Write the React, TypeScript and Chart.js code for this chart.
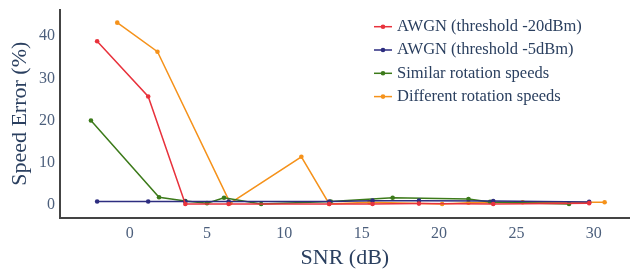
import React, { useEffect, useRef } from "react";
import { Chart, registerables } from "chart.js";

Chart.register(...registerables);

const seriesNames = [
  "AWGN (threshold -20dBm)",
  "AWGN (threshold -5dBm)",
  "Similar rotation speeds",
  "Different rotation speeds",
];
const seriesColors = ["#e8323c", "#2d2d80", "#3c7a1a", "#f5921b"];

const redX = [-2.1, 1.2, 3.6, 6.4, 12.9, 15.7, 18.7, 23.5, 29.7];
const redY = [38.8, 25.7, 0.2, 0.2, 0.2, 0.2, 0.3, 0.2, 0.4];
const blueX = [-2.1, 1.2, 3.6, 6.4, 12.9, 15.7, 18.7, 23.5, 29.7];
const blueY = [0.8, 0.8, 0.8, 0.8, 0.8, 1.0, 1.0, 0.9, 0.7];
const greenX = [-2.5, 1.9, 3.6, 5.0, 6.1, 8.5, 13.0, 17.0, 21.9, 23.3, 28.4];
const greenY = [20.0, 1.8, 0.9, 0.4, 1.7, 0.2, 0.8, 1.7, 1.4, 0.7, 0.2];
const orangeX = [-0.8, 1.8, 6.5, 11.1, 12.9, 15.5, 20.2, 21.9, 25.4, 30.7];
const orangeY = [43.2, 36.3, 0.4, 11.4, 0.2, 0.6, 0.2, 0.5, 0.6, 0.6];

const xTicks = [0, 5, 10, 15, 20, 25, 30];
const yTicks = [0, 10, 20, 30, 40];

const xs = [redX, blueX, greenX, orangeX];
const ys = [redY, blueY, greenY, orangeY];

const FONT = "'Liberation Serif', 'DejaVu Serif', serif";
const TEXT = "#2a3f5f";
const TICK = "#4c5f7c";

const legendPlugin = {
  id: "customLegend",
  afterDraw(chart: any) {
    const ctx = chart.ctx;
    ctx.save();
    chart.data.datasets.forEach((ds: any, i: number) => {
      const y = 26.7 + i * 23.3;
      const x0 = 374;
      ctx.strokeStyle = ds.borderColor;
      ctx.lineWidth = 1.5;
      ctx.beginPath();
      ctx.moveTo(x0, y);
      ctx.lineTo(x0 + 18, y);
      ctx.stroke();
      ctx.fillStyle = ds.borderColor;
      ctx.beginPath();
      ctx.arc(x0 + 9, y, 2.3, 0, Math.PI * 2);
      ctx.fill();
      ctx.fillStyle = TEXT;
      ctx.font = `16.5px ${FONT}`;
      ctx.textBaseline = "middle";
      ctx.textAlign = "left";
      ctx.fillText(ds.label, 397, y);
    });
    ctx.restore();
  },
};

export default function App() {
  const ref = useRef<HTMLCanvasElement | null>(null);
  useEffect(() => {
    document.body.style.margin = "0";
    const canvas = ref.current!;
    const chart = new Chart(canvas, {
      type: "scatter",
      data: {
        datasets: seriesNames.map((name, i) => ({
          label: name,
          data: xs[i].map((x, j) => ({ x, y: ys[i][j] })),
          showLine: true,
          borderColor: seriesColors[i],
          backgroundColor: seriesColors[i],
          borderWidth: 1.5,
          pointRadius: 2.3,
          pointHoverRadius: 2.3,
          pointBorderWidth: 0,
          tension: 0,
        })),
      },
      options: {
        animation: false,
        responsive: false,
        maintainAspectRatio: false,
        layout: { padding: { top: 10, right: 2, left: 0, bottom: 0 } },
        plugins: {
          legend: { display: false },
          tooltip: { enabled: false },
        },
        scales: {
          x: {
            type: "linear",
            min: -4.5,
            max: 32.32,
            afterFit: (s: any) => {
              s.height = 55.5;
              s.paddingLeft = 0;
              s.paddingRight = 0;
            },
            afterBuildTicks: (s: any) => {
              s.ticks = xTicks.map((v) => ({ value: v }));
            },
            grid: { display: false, drawTicks: false },
            border: { display: true, color: "#444444", width: 2 },
            ticks: {
              padding: 7,
              color: TICK,
              font: { family: FONT, size: 16 },
            },
            title: {
              display: true,
              text: "SNR (dB)",
              color: TEXT,
              font: { family: FONT, size: 22 },
              padding: { top: 0, bottom: 2 },
            },
          },
          y: {
            type: "linear",
            min: -3,
            max: 46.2,
            afterFit: (s: any) => {
              s.width = 60;
              s.paddingTop = 0;
              s.paddingBottom = 0;
            },
            afterBuildTicks: (s: any) => {
              s.ticks = yTicks.map((v) => ({ value: v }));
            },
            grid: { display: false, drawTicks: false },
            border: { display: true, color: "#444444", width: 2 },
            ticks: {
              padding: 5,
              color: TICK,
              font: { family: FONT, size: 16 },
            },
            title: {
              display: true,
              text: "Speed Error (%)",
              color: TEXT,
              font: { family: FONT, size: 22 },
              padding: { top: 7, bottom: 0 },
            },
          },
        },
      },
      plugins: [legendPlugin],
    });
    return () => chart.destroy();
  }, []);
  return (
    <div style={{ position: "fixed", left: 0, top: 0, width: 632, height: 273, background: "#fff" }}>
      <canvas ref={ref} width={632} height={273} style={{ width: 632, height: 273, display: "block" }} />
    </div>
  );
}
